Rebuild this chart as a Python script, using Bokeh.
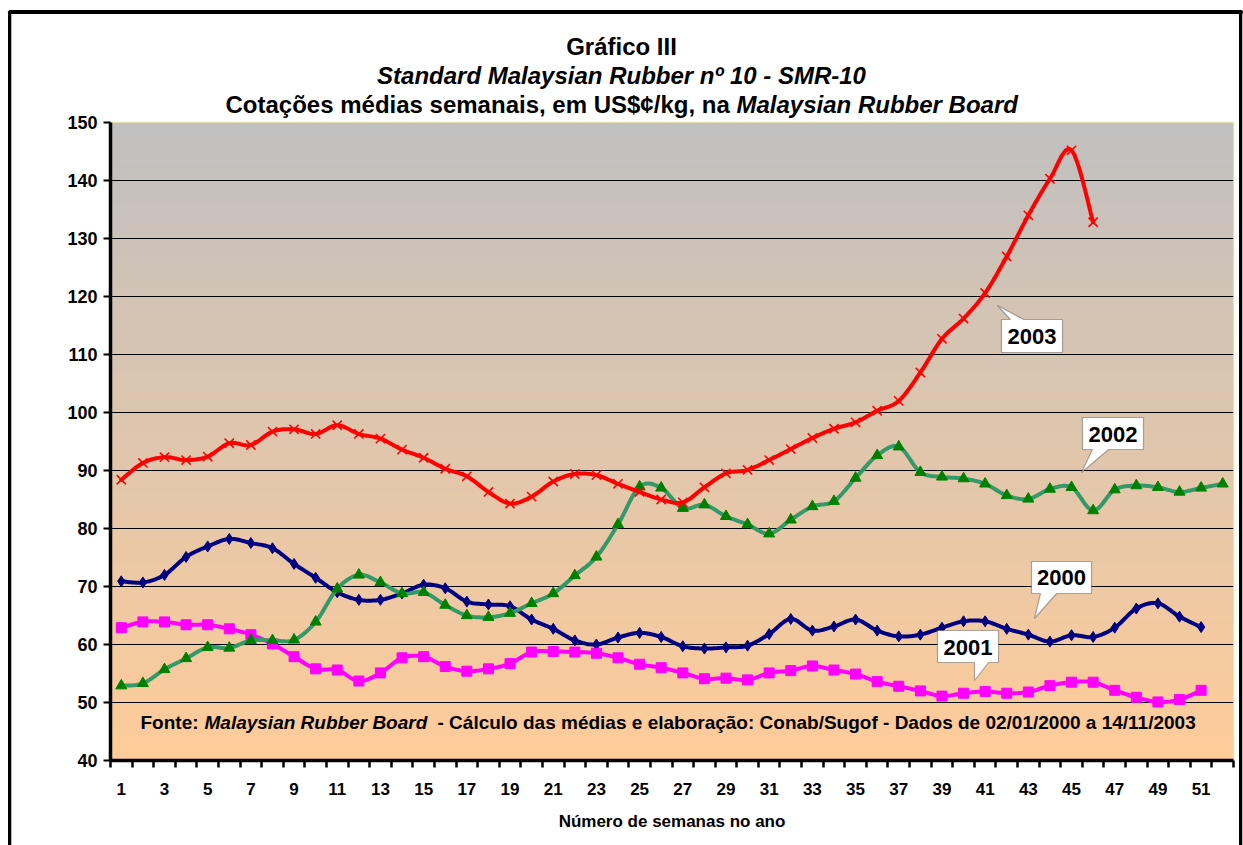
import numpy as np
from bokeh.plotting import figure
from bokeh.models import FixedTicker, Label, PolyAnnotation, Range1d
from bokeh.embed import file_html
from bokeh.resources import INLINE

# ---------------- data ----------------
weeks_2000 = list(range(1, 52))
sm_2000 = [70.9, 70.7, 72.0, 75.1, 76.9, 78.2, 77.5, 76.6, 73.9, 71.5,
           69.0, 67.7, 67.7, 68.8, 70.3, 69.7, 67.4, 66.9, 66.6, 64.3,
           62.7, 60.7, 60.0, 61.2, 62.0, 61.3, 59.7, 59.3, 59.5, 59.8,
           61.8, 64.4, 62.4, 63.1, 64.3, 62.4, 61.4, 61.7, 62.9, 64.0,
           64.0, 62.7, 61.7, 60.5, 61.6, 61.3, 62.9, 66.2, 67.1, 64.8, 63.0]

weeks_2001 = list(range(1, 52))
sm_2001 = [62.9, 63.9, 63.9, 63.4, 63.4, 62.7, 61.7, 60.1, 57.9, 55.8,
           55.6, 53.7, 55.1, 57.7, 57.9, 56.2, 55.4, 55.8, 56.7, 58.7,
           58.8, 58.7, 58.5, 57.7, 56.6, 56.0, 55.1, 54.1, 54.2, 53.9,
           55.1, 55.5, 56.3, 55.6, 54.9, 53.6, 52.8, 52.0, 51.1, 51.6,
           51.9, 51.6, 51.8, 52.9, 53.5, 53.5, 52.1, 50.9, 50.1, 50.5, 52.1]

weeks_2002 = list(range(1, 53))
sm_2002 = [52.9, 53.3, 55.7, 57.6, 59.5, 59.4, 60.7, 60.7, 60.8, 63.9,
           69.6, 72.0, 70.7, 68.8, 69.0, 66.8, 65.0, 64.7, 65.4, 67.1,
           68.8, 71.9, 75.1, 80.7, 87.2, 87.0, 83.5, 84.1, 82.1, 80.7,
           79.1, 81.5, 83.8, 84.7, 88.7, 92.6, 94.1, 89.7, 88.9, 88.6,
           87.7, 85.7, 85.1, 86.8, 87.1, 83.1, 86.7, 87.4, 87.1, 86.3, 87.0, 87.7]

weeks_2003 = list(range(1, 47))
sm_2003 = [88.4, 91.3, 92.3, 91.8, 92.4, 94.7, 94.4, 96.7, 97.1, 96.3,
           97.8, 96.3, 95.5, 93.6, 92.2, 90.3, 89.0, 86.3, 84.3, 85.5,
           88.1, 89.4, 89.2, 87.7, 86.3, 85.0, 84.5, 87.1, 89.5, 90.1,
           91.8, 93.7, 95.6, 97.2, 98.3, 100.3, 102.0, 106.9, 112.7, 116.2,
           120.6, 126.9, 134.0, 140.3, 145.2, 132.8]

x_tick_labels = [str(w) for w in range(1, 52, 2)]
y_ticks = list(range(40, 151, 10))

title_1 = "Gráfico III"
title_2 = "Standard Malaysian Rubber nº 10 - SMR-10"
title_3a = "Cotações médias semanais, em US$¢/kg, na "
title_3b = "Malaysian Rubber Board"
source_a = "Fonte:"
source_b = "Malaysian Rubber Board"
source_c = "- Cálculo das médias e elaboração: Conab/Sugof - Dados de 02/01/2000 a 14/11/2003"
x_title = "Número de semanas no ano"

# ---------------- layout constants ----------------
FONT = "Liberation Sans"
W, H = 1243, 845
BL, BR, BT, BB = 110, 10, 122, 85
X0, X1, Y0, Y1 = 0.5, 52.5, 40, 150
FW = W - BL - BR
FH = H - BT - BB
XS = FW / (X1 - X0)
YS = FH / (Y1 - Y0)

def rx(px):  # canvas px -> data x
    return X0 + (px - BL) / XS

def ry(py):  # canvas px -> data y
    return Y1 - (py - BT) / YS

def smooth(xs, ys, n=14):
    xs = np.asarray(xs, float); ys = np.asarray(ys, float)
    P = np.column_stack([xs, ys])
    Pp = np.vstack([P[0], P, P[-1]])
    out = [P[0]]
    t = np.linspace(0, 1, n + 1)[1:, None]
    for i in range(len(P) - 1):
        p0, p1, p2, p3 = Pp[i], Pp[i + 1], Pp[i + 2], Pp[i + 3]
        c1 = p1 + (p2 - p0) / 6.0
        c2 = p2 - (p3 - p1) / 6.0
        seg = ((1 - t) ** 3) * p1 + 3 * ((1 - t) ** 2) * t * c1 + 3 * (1 - t) * t ** 2 * c2 + t ** 3 * p2
        out.extend(seg)
    out = np.array(out)
    return out[:, 0], out[:, 1]

p = figure(width=W, height=H, x_range=Range1d(X0, X1), y_range=Range1d(Y0, Y1),
           output_backend="svg", toolbar_location=None,
           min_border_left=BL, min_border_right=BR, min_border_top=BT, min_border_bottom=BB)
p.title = None
p.border_fill_color = "white"
p.background_fill_color = None
p.outline_line_color = "#EEEEA8"
p.outline_line_width = 1.5

# gradient background of the plot area
Hn = 256
tt = np.linspace(0, 1, Hn)[:, None]
bottom = np.array([255, 204, 153], float)
top = np.array([192, 192, 192], float)
rgb = (bottom + (top - bottom) * tt).round().astype(np.uint8)
img = np.zeros((Hn, 1), dtype=np.uint32)
view = img.view(dtype=np.uint8).reshape((Hn, 1, 4))
view[:, :, 0] = rgb[:, 0:1]
view[:, :, 1] = rgb[:, 1:2]
view[:, :, 2] = rgb[:, 2:3]
view[:, :, 3] = 255
p.image_rgba(image=[img], x=X0, y=Y0, dw=X1 - X0, dh=Y1 - Y0, level="image")

# grid
p.xgrid.visible = False
p.ygrid.ticker = FixedTicker(ticks=[t for t in y_ticks if 40 < t < 150])
p.ygrid.grid_line_color = "black"
p.ygrid.grid_line_width = 1

# axes
xa = p.xaxis[0]
xa.ticker = FixedTicker(ticks=list(range(1, 52, 2)), minor_ticks=[i + 0.5 for i in range(0, 53)])
xa.major_label_overrides = {w: lab for w, lab in zip(range(1, 52, 2), x_tick_labels)}
xa.major_tick_out = 0
xa.major_tick_in = 0
xa.major_tick_line_color = None
xa.minor_tick_out = 7
xa.minor_tick_in = 0
xa.minor_tick_line_width = 2.5
xa.minor_tick_line_color = "black"
xa.axis_line_width = 3.5
xa.axis_line_color = "black"
xa.major_label_standoff = 15
xa.major_label_text_font = FONT
xa.major_label_text_font_style = "bold"
xa.major_label_text_font_size = "17px"
xa.major_label_text_color = "black"
xa.axis_label = x_title
xa.axis_label_standoff = 14
xa.axis_label_text_font = FONT
xa.axis_label_text_font_style = "bold"
xa.axis_label_text_font_size = "17px"
xa.axis_label_text_color = "black"

ya = p.yaxis[0]
ya.ticker = FixedTicker(ticks=y_ticks)
ya.major_tick_out = 7
ya.major_tick_in = 0
ya.major_tick_line_width = 2
ya.minor_tick_line_color = None
ya.axis_line_width = 3.5
ya.axis_line_color = "black"
ya.major_label_standoff = 6
ya.major_label_text_font = FONT
ya.major_label_text_font_style = "bold"
ya.major_label_text_font_size = "18px"
ya.major_label_text_color = "black"

# series
series = [
    (weeks_2000, sm_2000, "#000080", "diamond", 11, "#000080"),
    (weeks_2001, sm_2001, "#FF00FF", "square", 10, "#FF00FF"),
    (weeks_2002, sm_2002, "#339966", "triangle", 11, "#008000"),
    (weeks_2003, sm_2003, "#FF0000", "x", 13, "#FF0000"),
]
for xs, ys, lc, mk, ms, mc in series:
    sx, sy = smooth(xs, ys)
    p.line(sx, sy, line_color=lc, line_width=4, line_join="round", line_cap="round")
    if mk == "x":
        p.scatter(xs, ys, marker="x", size=ms, line_color=mc, line_width=1.6)
    else:
        p.scatter(xs, ys, marker=mk, size=ms, fill_color=mc, line_color=mc, line_width=1)

def clabel(x, y, text, size, style="bold", align="center"):
    p.add_layout(Label(x=x, y=y, x_units="canvas", y_units="canvas", text=text,
                       text_font=FONT, text_font_style=style, text_font_size=size,
                       text_color="black", text_align=align, text_baseline="middle"), "above")

# outer frame of the chart: three thin bordered boxes drawn in canvas space
def frame_line(x, y, pad, place):
    p.add_layout(Label(x=x, y=y, x_units="canvas", y_units="canvas", text=" ",
                       text_font=FONT, text_font_size="1px", text_align="left", text_baseline="top",
                       padding=pad, background_fill_color="black",
                       border_line_color="black", border_line_width=3), place)

frame_line(10, 11, dict(top=0, left=0, right=1231, bottom=0), "above")
frame_line(9, 11, dict(top=0, left=0, right=0, bottom=900), "left")
frame_line(1240, 11, dict(top=0, left=0, right=0, bottom=900), "right")

# title lines
clabel(621, 46, title_1, "24px")
clabel(621, 75, title_2, "24px", "bold italic")
clabel(225, 104, title_3a, "24px", "bold", "left")
clabel(736, 104, title_3b, "24px", "bold italic", "left")

# source note
for txt, px_, style in [(source_a, 140, "bold"), (source_b, 204, "bold italic"), (source_c, 437, "bold")]:
    p.add_layout(Label(x=rx(px_), y=ry(722), text=txt, text_font=FONT, text_font_style=style,
                       text_color="black", text_font_size="19px", text_align="left", text_baseline="middle"))

# callouts (box + pointer), geometry in canvas pixels
callouts = [
    ("2003", [(1001, 319), (1010, 319), (997, 305), (1023, 319), (1062, 319), (1062, 352), (1001, 352)], (1031.5, 336)),
    ("2002", [(1082, 417), (1143, 417), (1143, 449), (1108, 449), (1081, 472), (1092, 449), (1082, 449)], (1112.5, 433.5)),
    ("2000", [(1031, 561), (1091, 561), (1091, 593), (1056, 593), (1034, 618), (1040, 593), (1031, 593)], (1061, 577)),
    ("2001", [(937, 630), (998, 630), (998, 662), (988, 662), (974, 680), (974, 662), (937, 662)], (967.5, 646.5)),
]
for txt, pts, (tx, ty) in callouts:
    p.add_layout(PolyAnnotation(xs=[rx(a) for a, b in pts], ys=[ry(b) for a, b in pts],
                                fill_color="white", fill_alpha=1.0, line_color="black", line_width=1.2))
    p.add_layout(Label(x=rx(tx), y=ry(ty), text=txt, text_font=FONT, text_font_style="bold",
                       text_color="black", text_font_size="22px", text_align="center", text_baseline="middle"))

open("out.html", "w").write(file_html(p, INLINE))
